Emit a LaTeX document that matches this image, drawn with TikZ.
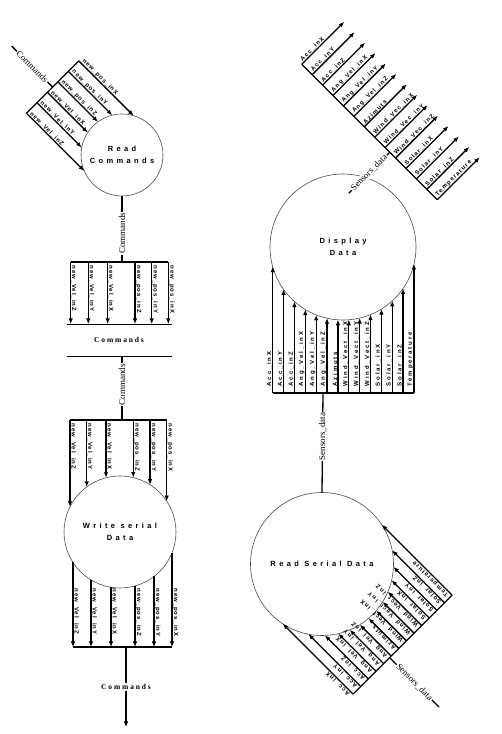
\documentclass[tikz,border=0pt]{standalone}
\usepackage{fontspec}
\usetikzlibrary{arrows.meta}
\newfontfamily\lblfamA[LetterSpace=15]{Liberation Sans}
\newfontfamily\lblfamB[LetterSpace=20]{Liberation Sans}
\newfontfamily\lblfamC[LetterSpace=30]{Liberation Sans}
\newfontfamily\circfam[LetterSpace=45]{Liberation Sans}
\newfontfamily\storefam[LetterSpace=25]{Liberation Serif}
\newfontfamily\flowfam{Liberation Serif}
\tikzset{
  flow/.style={line width=1.3pt, -{Latex[length=5.5pt,width=4.5pt]}},
  barline/.style={line width=1.3pt},
  storeline/.style={line width=0.8pt},
  proc/.style={circle, draw=black!70, line width=0.6pt, inner sep=0pt, align=center,
    font=\circfam\bfseries\fontsize{7.5}{12}\selectfont},
  lblL/.style={font=\lblfamA\bfseries\fontsize{6}{7}\selectfont, inner sep=0.6pt, anchor=south west, transform shape},
  lblB/.style={font=\lblfamB\bfseries\fontsize{6}{7}\selectfont, inner sep=0.6pt, anchor=south west, transform shape},
  lblC/.style={font=\lblfamC\bfseries\fontsize{6}{7}\selectfont, inner sep=0.6pt, anchor=south west, transform shape},
  flbl/.style={font=\flowfam\fontsize{9}{10}\selectfont, fill=white, inner sep=1pt},
  slbl/.style={font=\storefam\bfseries\fontsize{7.5}{8}\selectfont, fill=white, inner sep=1pt},
}
\begin{document}
\begin{tikzpicture}[x=1pt,y=1pt]
\fill[white] (0,0) rectangle (502,734);
\useasboundingbox (0,0) rectangle (502,734);

% processes
\node[proc, minimum size=82pt] (rc) at (122,579) {Read\\Commands};
\node[proc, minimum size=112pt] (ws) at (120,202) {Write serial\\Data};
\node[proc, minimum size=146pt] (dd) at (343,487) {Display\\Data};
\node[proc, minimum size=143pt] (rs) at (322,170) {Read Serial Data};

% ---- Read Commands input bundle
\begin{scope}[shift={(122,579)}, rotate=-45]
  \coordinate (rcinS) at (-155,-1);
  \coordinate (rcinB) at (-97,-1);
  \draw[barline] (rcinS) -- node[flbl, transform shape] (rcinL) {Commands} (rcinB);
  \coordinate (rcbarT) at (-97,36);
  \coordinate (rcbarB) at (-97,-38);
  \draw[barline] (rcbarT) -- (rcbarB);
  \foreach \s/\t [count=\i] in {36/new\_pos\_inX, 21.2/new\_pos\_inY, 6.4/new\_pos\_inZ,
      -8.4/new\_Vel\_inX, -23.2/new\_Vel\_inY, -38/new\_Vel\_inZ}{
    \pgfmathsetmacro\e{-sqrt(41*41-(\s)*(\s))}
    \coordinate (rcA\i) at (-97,\s);
    \coordinate (rcB\i) at (\e,\s);
    \draw[flow] (rcA\i) -- (rcB\i);
    \node[lblL] (rcL\i) at (-95,\s) {\t};
  }
\end{scope}

% ---- Read Commands output to store
\coordinate (rcoutB) at (122,472);
\draw[barline] (rc.south) -- node[flbl, rotate=90, pos=0.56] (rcoutL) {Commands} (rcoutB);
\begin{scope}[shift={(0,472)}, rotate=-90]
  \coordinate (rcobL) at (0,70.7);
  \coordinate (rcobR) at (0,168.3);
  \draw[barline] (rcobL) -- (rcobR);
  \foreach \s/\t [count=\i] in {70.7/new\_Vel\_inZ, 88.3/new\_Vel\_inY, 107.7/new\_Vel\_inX,
      135/new\_pos\_inZ, 151.7/new\_pos\_inY, 168.3/new\_pos\_inX}{
    \coordinate (roA\i) at (0,\s);
    \coordinate (roB\i) at (62,\s);
    \draw[flow] (roA\i) -- (roB\i);
    \node[lblL] (roL\i) at (3,\s) {\t};
  }
\end{scope}

% ---- data store
\coordinate (stTL) at (67,410);
\coordinate (stTR) at (172,410);
\coordinate (stBL) at (67,378);
\coordinate (stBR) at (172,378);
\draw[storeline] (stTL) -- (stTR);
\draw[storeline] (stBL) -- (stBR);
\node[slbl, fill=none] (store) at (119,394) {Commands};

% ---- Write serial input
\coordinate (wsinS) at (122,378);
\coordinate (wsinB) at (122,314);
\draw[barline] (wsinS) -- node[flbl, rotate=90, pos=0.45] (wsinL) {Commands} (wsinB);
\begin{scope}[shift={(120,202)}, rotate=-90]
  \coordinate (wsbL) at (-112,-50);
  \coordinate (wsbR) at (-112,46.7);
  \draw[barline] (wsbL) -- (wsbR);
  \foreach \s/\t [count=\i] in {-50/new\_Vel\_inZ, -33.3/new\_Vel\_inY, -14/new\_Vel\_inX,
      13.3/new\_pos\_inZ, 30/new\_pos\_inY, 46.7/new\_pos\_inX}{
    \pgfmathsetmacro\e{-sqrt(56*56-(\s)*(\s))}
    \coordinate (wiA\i) at (-112,\s);
    \coordinate (wiB\i) at (\e,\s);
    \draw[flow] (wiA\i) -- (wiB\i);
    \node[lblL] (wiL\i) at (-109,\s) {\t};
  }
  % output bundle
  \coordinate (wobL) at (115,-47);
  \coordinate (wobR) at (115,52);
  \draw[barline] (wobL) -- (wobR);
  \foreach \s/\t [count=\i] in {-47/new\_Vel\_inZ, -29/new\_Vel\_inY, -9/new\_Vel\_inX,
      15/new\_pos\_inZ, 34/new\_pos\_inY, 52/new\_pos\_inX}{
    \pgfmathsetmacro\e{sqrt(56*56-(\s)*(\s))}
    \coordinate (woA\i) at (\e,\s);
    \coordinate (woB\i) at (115,\s);
    \draw[flow] (woA\i) -- (woB\i);
    \node[lblL] (woL\i) at (56,\s) {\t};
  }
\end{scope}
\coordinate (woutS) at (126,87);
\coordinate (woutE) at (126,7);
\draw[flow] (woutS) -- node[slbl] (woutL) {Commands} (woutE);

% ---- Display Data input bundle
\begin{scope}[shift={(343,487)}, rotate=90]
  \coordinate (ddbL) at (-146,70.3);
  \coordinate (ddbR) at (-146,-71);
  \draw[barline] (ddbL) -- (ddbR);
  \foreach \t [count=\i from 0] in {Acc\_inX, Acc\_inY, Acc\_inZ, Ang\_Vel\_inX, Ang\_Vel\_inY,
      Ang\_Vel\_inZ, Azimuts, Wind\_Vect\_inX, Wind\_Vect\_inY, Wind\_Vect\_inZ,
      Solar\_inX, Solar\_inY, Solar\_inZ, Temperature}{
    \pgfmathsetmacro\s{70.3-10.87*\i}
    \pgfmathsetmacro\e{-sqrt(73*73-(\s)*(\s))}
    \coordinate (diA\i) at (-146,\s);
    \coordinate (diB\i) at (\e,\s);
    \draw[flow] (diA\i) -- (diB\i);
    \node[lblC] (diL\i) at (-140,\s) {\t};
  }
\end{scope}

% ---- Read Serial -> Display
\coordinate (rsddB) at (323,341);
\draw[barline] (rs.north) -- node[flbl, rotate=90, pos=0.56] (rsddL) {Sensors\_data} (rsddB);

% ---- Read Serial input bundle
\begin{scope}[shift={(322,170)}, rotate=135]
  \coordinate (rsbL) at (-114,70);
  \coordinate (rsbR) at (-114,-70);
  \draw[barline] (rsbL) -- (rsbR);
  \foreach \t [count=\i from 0] in {Acc\_inX, Acc\_inY, Acc\_inZ, Ang\_Vel\_inX, Ang\_Vel\_inY,
      Ang\_Vel\_inZ, Azimuts, Wind\_Vect\_inX, Wind\_Vect\_inY, Wind\_Vect\_inZ,
      Solar\_inX, Solar\_inY, Solar\_inZ, Temperature}{
    \pgfmathsetmacro\s{70-10.77*\i}
    \pgfmathsetmacro\e{-sqrt(71.5*71.5-(\s)*(\s))}
    \coordinate (riA\i) at (-114,\s);
    \coordinate (riB\i) at (\e,\s);
    \draw[flow] (riA\i) -- (riB\i);
    \node[lblB] (riL\i) at (-112,\s) {\t};
  }
  \coordinate (rsinS) at (-184,18.4);
  \coordinate (rsinB) at (-114,18.4);
  \draw[barline] (rsinS) -- node[flbl, rotate=-45] (rsinL) {Sensors\_data} (rsinB);
\end{scope}

% ---- Display Data output bundle
\begin{scope}[shift={(369.5,602)}, rotate=45]
  \coordinate (dobL) at (0,95.8);
  \coordinate (dobR) at (0,-95.8);
  \draw[barline] (dobL) -- (dobR);
  \foreach \t [count=\i from 0] in {Acc\_inX, Acc\_inY, Acc\_inZ, Ang\_Vel\_inX, Ang\_Vel\_inY,
      Ang\_Vel\_inZ, Azimuts, Wind\_Vec\_inX, Wind\_Vec\_inY, Wind\_Vec\_inZ,
      Solar\_inX, Solar\_inY, Solar\_inZ, Temperature}{
    \pgfmathsetmacro\s{95.8-14.74*\i}
    \coordinate (doA\i) at (0,\s);
    \coordinate (doB\i) at (60,\s);
    \draw[flow] (doA\i) -- (doB\i);
    \node[lblB] (doL\i) at (2,\s) {\t};
  }
  \coordinate (dooS) at (-58,-28.6);
  \coordinate (dooB) at (0,-28.6);
  \draw[barline] (dooS) -- node[flbl, transform shape] (dooL) {Sensors\_data} (dooB);
\end{scope}
\end{tikzpicture}
\end{document}
